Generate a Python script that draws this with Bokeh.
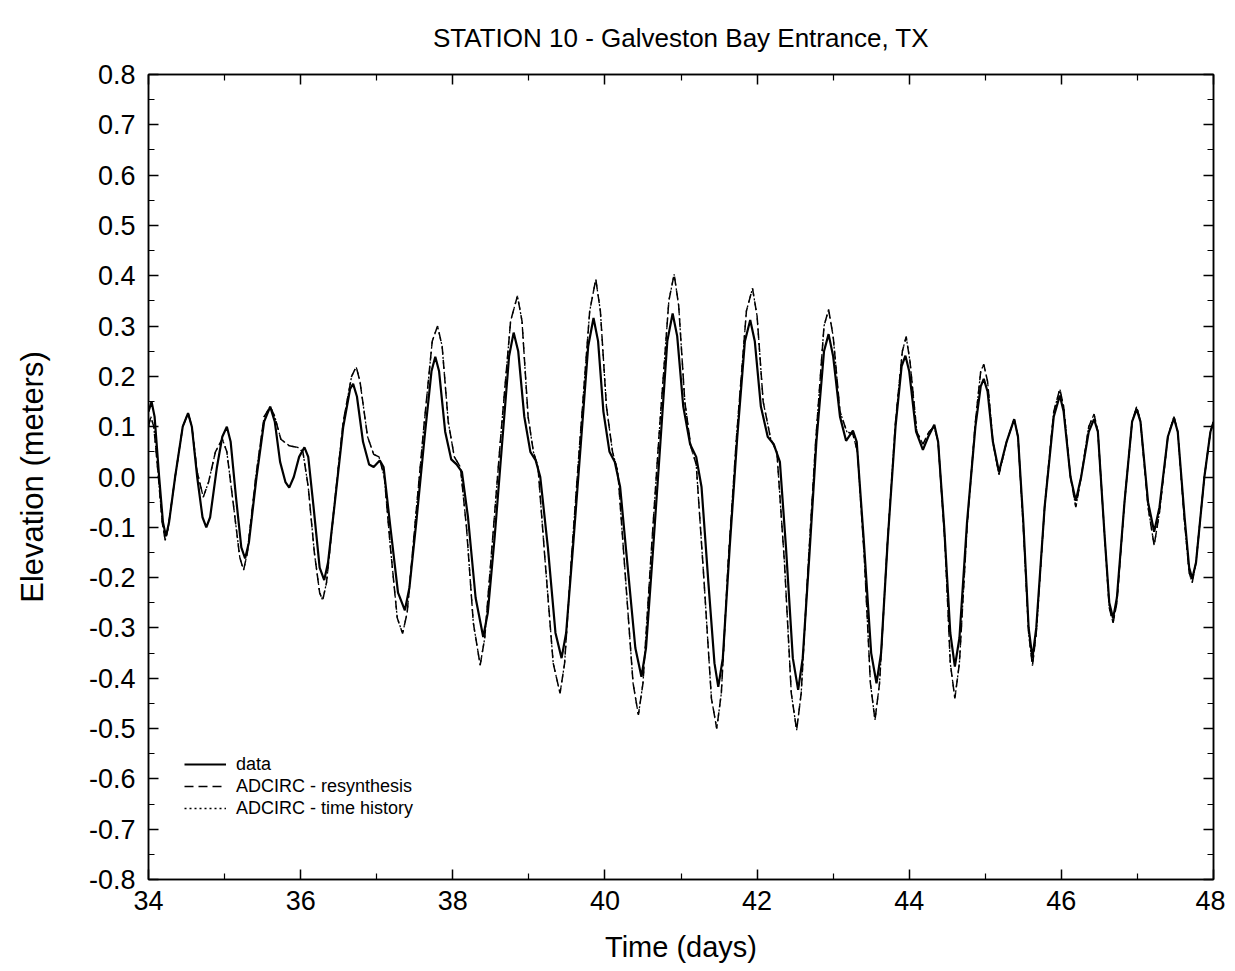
from bokeh.plotting import figure
from bokeh.models import Range1d, LinearAxis, FixedTicker, PrintfTickFormatter, Legend, LegendItem, CustomLabelingPolicy
from bokeh.embed import file_html
from bokeh.resources import INLINE

# ---- data ----
data_t = [34.00, 34.04, 34.08, 34.14, 34.19, 34.23, 34.27, 34.35, 34.45, 34.52, 34.57, 34.64, 34.71, 34.76, 34.81,
          34.90, 34.97, 35.03, 35.08, 35.15, 35.22, 35.27, 35.32, 35.42, 35.52, 35.60, 35.66, 35.73, 35.80, 35.85,
          35.91, 35.98, 36.05, 36.10, 36.17, 36.25, 36.31, 36.36, 36.45, 36.56, 36.65, 36.69, 36.74, 36.82, 36.90,
          36.96, 37.04, 37.09, 37.18, 37.28, 37.37, 37.43, 37.52, 37.63, 37.72, 37.77, 37.82, 37.90, 37.98, 38.05,
          38.12, 38.20, 38.30, 38.40, 38.46, 38.55, 38.65, 38.74, 38.80, 38.86, 38.94, 39.02, 39.09, 39.15, 39.25,
          39.35, 39.43, 39.49, 39.58, 39.68, 39.78, 39.85, 39.91, 39.98, 40.06, 40.13, 40.20, 40.30, 40.40, 40.48,
          40.54, 40.63, 40.73, 40.82, 40.89, 40.95, 41.03, 41.12, 41.20, 41.27, 41.36, 41.44, 41.49, 41.55, 41.64,
          41.74, 41.84, 41.91, 41.97, 42.05, 42.14, 42.22, 42.30, 42.38, 42.47, 42.54, 42.60, 42.69, 42.78, 42.88,
          42.94, 43.00, 43.09, 43.17, 43.26, 43.31, 43.40, 43.50, 43.57, 43.63, 43.72, 43.82, 43.90, 43.95, 44.00,
          44.09, 44.18, 44.25, 44.33, 44.38, 44.46, 44.54, 44.60, 44.66, 44.76, 44.87, 44.94, 44.98, 45.03, 45.10,
          45.18, 45.28, 45.38, 45.43, 45.50, 45.57, 45.62, 45.67, 45.78, 45.90, 45.98, 46.03, 46.12, 46.19, 46.26,
          46.36, 46.43, 46.48, 46.57, 46.63, 46.68, 46.73, 46.83, 46.93, 46.99, 47.04, 47.14, 47.22, 47.29, 47.40,
          47.48, 47.53, 47.62, 47.68, 47.72, 47.77, 47.88, 47.96, 48.00]
data_v = [0.13, 0.15, 0.12, 0.00, -0.09, -0.118, -0.09, 0.00, 0.10, 0.127, 0.10, 0.00, -0.08, -0.10, -0.08,
          0.02, 0.08, 0.10, 0.07, -0.04, -0.14, -0.162, -0.13, 0.00, 0.11, 0.14, 0.11, 0.03, -0.01, -0.021,
          0.00, 0.04, 0.059, 0.04, -0.06, -0.18, -0.205, -0.17, -0.05, 0.10, 0.175, 0.185, 0.16, 0.07, 0.025,
          0.02, 0.033, 0.02, -0.10, -0.23, -0.265, -0.22, -0.09, 0.08, 0.21, 0.239, 0.21, 0.09, 0.035, 0.025,
          0.01, -0.08, -0.24, -0.318, -0.27, -0.12, 0.07, 0.24, 0.287, 0.25, 0.12, 0.05, 0.033, 0.00, -0.14,
          -0.31, -0.36, -0.31, -0.14, 0.06, 0.26, 0.316, 0.27, 0.13, 0.05, 0.03, -0.02, -0.18, -0.34, -0.397,
          -0.34, -0.15, 0.07, 0.27, 0.325, 0.28, 0.14, 0.065, 0.04, -0.02, -0.21, -0.37, -0.417, -0.36, -0.14,
          0.08, 0.27, 0.312, 0.27, 0.14, 0.08, 0.065, 0.03, -0.14, -0.36, -0.423, -0.36, -0.15, 0.07, 0.25,
          0.284, 0.24, 0.12, 0.072, 0.092, 0.07, -0.12, -0.35, -0.41, -0.35, -0.12, 0.10, 0.22, 0.241, 0.21,
          0.09, 0.054, 0.08, 0.104, 0.07, -0.10, -0.31, -0.377, -0.32, -0.09, 0.10, 0.18, 0.195, 0.17, 0.07,
          0.01, 0.07, 0.115, 0.08, -0.09, -0.30, -0.36, -0.30, -0.06, 0.12, 0.162, 0.13, 0.00, -0.047, 0.00,
          0.09, 0.115, 0.09, -0.12, -0.25, -0.281, -0.24, -0.05, 0.11, 0.135, 0.11, -0.05, -0.109, -0.06, 0.08,
          0.117, 0.09, -0.08, -0.18, -0.202, -0.17, 0.00, 0.09, 0.109]

model_t = [34.00, 34.03, 34.07, 34.13, 34.18, 34.22, 34.26, 34.35, 34.45, 34.52, 34.57, 34.64, 34.72, 34.79, 34.88,
           34.97, 35.03, 35.12, 35.20, 35.25, 35.30, 35.41, 35.52, 35.60, 35.66, 35.74, 35.85, 35.96, 36.03, 36.10,
           36.18, 36.25, 36.29, 36.34, 36.44, 36.56, 36.67, 36.73, 36.78, 36.88, 36.96, 37.03, 37.10, 37.18, 37.27,
           37.34, 37.40, 37.50, 37.62, 37.73, 37.80, 37.86, 37.94, 38.02, 38.10, 38.18, 38.27, 38.36, 38.42, 38.52,
           38.63, 38.76, 38.85, 38.91, 38.99, 39.06, 39.12, 39.21, 39.32, 39.41, 39.47, 39.56, 39.67, 39.80, 39.88,
           39.94, 40.02, 40.10, 40.17, 40.27, 40.37, 40.44, 40.50, 40.60, 40.71, 40.84, 40.91, 40.97, 41.05, 41.13,
           41.20, 41.30, 41.40, 41.47, 41.53, 41.62, 41.73, 41.86, 41.94, 42.00, 42.08, 42.18, 42.26, 42.36, 42.45,
           42.52, 42.58, 42.67, 42.77, 42.88, 42.94, 43.00, 43.09, 43.18, 43.26, 43.32, 43.41, 43.49, 43.55, 43.61,
           43.71, 43.82, 43.91, 43.96, 44.01, 44.10, 44.18, 44.26, 44.33, 44.38, 44.47, 44.54, 44.60, 44.66, 44.76,
           44.87, 44.94, 44.98, 45.03, 45.10, 45.18, 45.28, 45.38, 45.43, 45.50, 45.57, 45.62, 45.67, 45.78, 45.90,
           45.98, 46.03, 46.12, 46.19, 46.26, 46.36, 46.43, 46.48, 46.57, 46.63, 46.68, 46.73, 46.83, 46.93, 46.99,
           47.04, 47.14, 47.22, 47.29, 47.40, 47.48, 47.53, 47.62, 47.68, 47.72, 47.77, 47.88, 47.96, 48.00]
resynthesis_v = [0.10, 0.12, 0.10, 0.00, -0.09, -0.126, -0.10, 0.00, 0.10, 0.127, 0.10, 0.01, -0.04, -0.01, 0.05,
                 0.076, 0.05, -0.06, -0.16, -0.185, -0.15, 0.00, 0.12, 0.14, 0.12, 0.075, 0.062, 0.059, 0.05, -0.02,
                 -0.15, -0.23, -0.245, -0.21, -0.06, 0.11, 0.20, 0.219, 0.19, 0.08, 0.045, 0.04, 0.00, -0.14, -0.28,
                 -0.311, -0.27, -0.10, 0.10, 0.27, 0.30, 0.26, 0.11, 0.04, 0.02, -0.10, -0.29, -0.374, -0.32, -0.13,
                 0.08, 0.31, 0.36, 0.31, 0.12, 0.05, 0.02, -0.16, -0.37, -0.43, -0.37, -0.16, 0.07, 0.33, 0.393,
                 0.33, 0.14, 0.05, 0.01, -0.20, -0.41, -0.473, -0.41, -0.17, 0.08, 0.35, 0.403, 0.34, 0.15, 0.06,
                 0.025, -0.20, -0.44, -0.50, -0.43, -0.17, 0.08, 0.33, 0.375, 0.32, 0.15, 0.075, 0.05, -0.17, -0.43,
                 -0.503, -0.43, -0.18, 0.07, 0.30, 0.333, 0.28, 0.13, 0.09, 0.085, 0.05, -0.16, -0.41, -0.483, -0.41,
                 -0.14, 0.11, 0.25, 0.279, 0.23, 0.09, 0.065, 0.09, 0.10, 0.07, -0.13, -0.37, -0.44, -0.37, -0.10,
                 0.11, 0.21, 0.224, 0.19, 0.07, 0.005, 0.07, 0.115, 0.08, -0.10, -0.31, -0.375, -0.31, -0.06, 0.13,
                 0.175, 0.14, 0.00, -0.06, 0.00, 0.10, 0.125, 0.09, -0.12, -0.26, -0.29, -0.25, -0.05, 0.11, 0.14,
                 0.11, -0.06, -0.136, -0.07, 0.08, 0.12, 0.09, -0.09, -0.19, -0.21, -0.17, 0.00, 0.09, 0.11]
time_history_v = list(resynthesis_v)

x_major = [34, 36, 38, 40, 42, 44, 46, 48]
x_minor = [35, 37, 39, 41, 43, 45, 47]
y_major = [-0.8, -0.7, -0.6, -0.5, -0.4, -0.3, -0.2, -0.1, 0.0, 0.1, 0.2, 0.3, 0.4, 0.5, 0.6, 0.7, 0.8]
y_minor = [-0.75, -0.65, -0.55, -0.45, -0.35, -0.25, -0.15, -0.05, 0.05, 0.15, 0.25, 0.35, 0.45, 0.55, 0.65, 0.75]
title_text = "STATION 10 - Galveston Bay Entrance, TX"

FONT = "Liberation Sans"

p = figure(width=1225, height=965, output_backend="svg", toolbar_location=None,
           x_range=Range1d(34, 48), y_range=Range1d(-0.8, 0.8),
           min_border_left=148, min_border_right=12, min_border_top=74, min_border_bottom=76,
           x_axis_label="Time (days)", y_axis_label="Elevation (meters)")
p.title.text = title_text
p.title.align = "center"
p.title.text_font = FONT
p.title.text_font_style = "normal"
p.title.text_font_size = "26px"
p.title.text_color = "black"
p.title.standoff = 35
p.xgrid.visible = False
p.ygrid.visible = False
p.outline_line_color = "black"
p.outline_line_width = 1.5
p.background_fill_color = "white"
p.border_fill_color = "white"

xt = FixedTicker(ticks=x_major, minor_ticks=x_minor)
yt = FixedTicker(ticks=y_major, minor_ticks=y_minor)

def style(ax, labels=True):
    ax.major_tick_in = 10
    ax.major_tick_out = 0
    ax.minor_tick_in = 6
    ax.minor_tick_out = 0
    ax.axis_line_width = 1.5
    ax.major_tick_line_width = 1.5
    ax.minor_tick_line_width = 1.2
    ax.major_label_text_font = FONT
    ax.major_label_text_color = "black"
    ax.axis_label_text_font = FONT
    ax.axis_label_text_font_style = "normal"
    ax.axis_label_text_color = "black"
    if labels:
        ax.major_label_text_font_size = "27px"
        ax.axis_label_text_font_size = "29px"
    else:
        ax.major_label_text_font_size = "1px"
        ax.major_label_standoff = 0
        ax.major_label_policy = CustomLabelingPolicy(code="return new Set()")

p.xaxis.ticker = xt
p.yaxis.ticker = yt
p.yaxis.formatter = PrintfTickFormatter(format="%.1f")
style(p.xaxis[0]); style(p.yaxis[0])
p.xaxis.major_label_standoff = 11
p.xaxis.axis_label_standoff = 18
p.yaxis.major_label_standoff = 13
p.yaxis.axis_label_standoff = 36
p.yaxis.axis_label_text_font_size = "31px"

top = LinearAxis(ticker=xt); style(top, False)
right = LinearAxis(ticker=yt); style(right, False)
p.add_layout(top, "above")
p.add_layout(right, "right")

r_data = p.line(data_t, data_v, line_color="black", line_width=2.2)
r_res = p.line(model_t, resynthesis_v, line_color="black", line_width=1.5, line_dash="9 5")
r_hist = p.line(model_t, time_history_v, line_color="black", line_width=1.3, line_dash="2 3")

legend = Legend(items=[LegendItem(label="data", renderers=[r_data]),
                       LegendItem(label="ADCIRC - resynthesis", renderers=[r_res]),
                       LegendItem(label="ADCIRC - time history", renderers=[r_hist])],
                location=(36, 60), padding=0, margin=0, spacing=0,
                glyph_width=42, glyph_height=22, label_height=22,
                label_text_font=FONT, label_text_font_size="18px", label_standoff=10,
                label_text_color="black",
                background_fill_alpha=0, border_line_alpha=0)
p.add_layout(legend, "center")

open("out.html", "w").write(file_html(p, INLINE))
